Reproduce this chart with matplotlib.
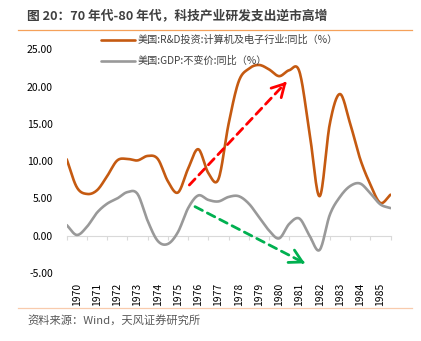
import numpy as np
import matplotlib
matplotlib.use("Agg")
import matplotlib.pyplot as plt
from matplotlib.lines import Line2D

plt.rcParams['font.family'] = ['Noto Sans CJK SC', 'DejaVu Sans']

# half-year readings, from mid-1969 to mid-1985 boundaries of the category axis
years = list(range(1970, 1986))
rd_yoy = [10.25, 6.5, 5.6, 6.1, 8.0, 10.1, 10.3, 10.1, 10.7, 10.3, 7.3, 5.8, 9.0,
          11.6, 8.4, 7.6, 15.0, 20.7, 22.4, 22.9, 22.3, 21.4, 22.2, 22.0, 13.8,
          5.3, 15.0, 19.0, 15.1, 10.3, 6.9, 4.4, 5.5]
gdp_yoy = [1.43, 0.1, 1.2, 3.1, 4.3, 5.0, 5.85, 5.6, 2.0, -0.7, -1.1, 0.5, 3.7,
           5.4, 4.8, 4.6, 5.2, 5.3, 4.3, 2.5, 0.7, -0.35, 1.6, 2.3, 0.0,
           -1.9, 2.8, 5.2, 6.65, 7.0, 5.7, 4.2, 3.7]
rd_label = '美国:R&D投资:计算机及电子行业:同比（%）'
gdp_label = '美国:GDP:不变价:同比（%）'

# annotation arrows (year, value)
red_arrow = ((1975.56, 6.8), (1980.37, 20.65))
green_arrow = ((1975.84, 3.9), (1981.27, -3.7))


def smooth(x, y, n=16):
    """Catmull-Rom curve through the points, like a spreadsheet smoothed line."""
    x = np.asarray(x, float)
    y = np.asarray(y, float)
    px = np.concatenate([[2 * x[0] - x[1]], x, [2 * x[-1] - x[-2]]])
    py = np.concatenate([[2 * y[0] - y[1]], y, [2 * y[-1] - y[-2]]])
    xs, ys = [], []
    s = np.linspace(0, 1, n, endpoint=False)
    for i in range(1, len(px) - 2):
        for p, out in ((px, xs), (py, ys)):
            p0, p1, p2, p3 = p[i - 1], p[i], p[i + 1], p[i + 2]
            out.extend(0.5 * (2 * p1 + (-p0 + p2) * s
                              + (2 * p0 - 5 * p1 + 4 * p2 - p3) * s ** 2
                              + (-p0 + 3 * p1 - 3 * p2 + p3) * s ** 3))
    xs.append(x[-1])
    ys.append(y[-1])
    return xs, ys


t = years[0] - 0.5 + 0.5 * np.arange(len(rd_yoy))

fig = plt.figure(figsize=(4.21, 3.41), dpi=100)
ax = fig.add_axes([66.7 / 421, 1 - 273.0 / 341, (390.5 - 66.7) / 421, (273.0 - 49.3) / 341])

ax.plot(*smooth(t, rd_yoy), color='#C55A11', lw=1.9, label=rd_label, solid_capstyle='round')
ax.plot(*smooth(t, gdp_yoy), color='#999999', lw=1.9, label=gdp_label, solid_capstyle='round')

ax.set_xlim(t[0], t[-1])
ax.set_ylim(-5, 25)
ax.set_yticks(range(-5, 26, 5))
ax.set_yticklabels(['%.2f' % v for v in range(-5, 26, 5)])
ax.set_xticks(years)
ax.set_xticklabels([str(y) for y in years], rotation=90)
ax.tick_params(axis='y', length=0, pad=10, labelsize=7.5, colors='#000000')
ax.tick_params(axis='x', length=0, pad=7, labelsize=7.5, colors='#000000')
for s in ax.spines.values():
    s.set_visible(False)

# category axis line drawn at zero, ticks on category boundaries
zero_axis = ax.secondary_xaxis(5 / 30)
zero_axis.set_xticks(np.arange(years[0] - 0.5, years[-1] + 1, 1))
zero_axis.tick_params(length=3, color='#D9D9D9', labelbottom=False, labeltop=False)
zero_axis.spines['bottom'].set_color('#D9D9D9')

for (start, end), col in ((red_arrow, '#FF0000'), (green_arrow, '#00B050')):
    ax.annotate('', xy=end, xytext=start,
                arrowprops=dict(arrowstyle='-', color=col, lw=2, linestyle=(0, (3, 2)),
                                shrinkA=0, shrinkB=2))
    ax.annotate('', xy=end, xytext=(end[0] - (end[0] - start[0]) * 0.02,
                                    end[1] - (end[1] - start[1]) * 0.02),
                arrowprops=dict(arrowstyle='->,head_length=0.9,head_width=0.5', color=col,
                                lw=2, shrinkA=0, shrinkB=0))

leg = ax.legend(loc='upper left', bbox_to_anchor=(101 / 421, 1 - 35 / 341),
                bbox_transform=fig.transFigure, frameon=False, fontsize=7.3,
                handlelength=3.4, handletextpad=0.25, labelspacing=1.05,
                borderpad=0, borderaxespad=0)
for txt in leg.get_texts():
    txt.set_color('#404040')

fig.text(27 / 421, 1 - 16 / 341, '图 20：70 年代-80 年代，科技产业研发支出逆市高增',
         fontsize=9.2, fontweight='bold', color='#404040', va='center', ha='left')
fig.add_artist(Line2D([18 / 421, 412 / 421], [1 - 30 / 341] * 2, color='#F5A15A', lw=0.9))
fig.add_artist(Line2D([18 / 421, 412 / 421], [1 - 307.5 / 341] * 2, color='#F8CBAD', lw=0.9))
fig.text(27 / 421, 1 - 321 / 341, '资料来源：Wind，天风证券研究所',
         fontsize=8.1, color='#595959', va='center', ha='left')

fig.savefig('out.png', dpi=100)
